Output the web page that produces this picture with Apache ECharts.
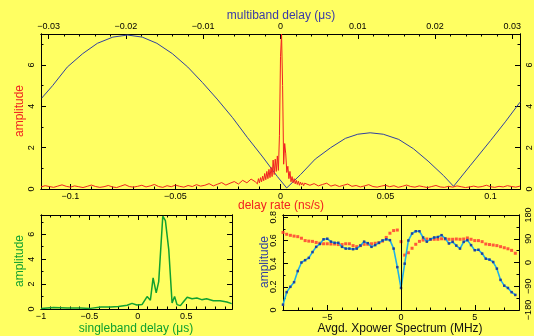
<!DOCTYPE html>
<html>
<head>
<meta charset="utf-8">
<script src="https://cdn.jsdelivr.net/npm/echarts@6/dist/echarts.min.js"></script>
<style>
  html, body { margin: 0; padding: 0; background: #ffff62; }
  #chart { width: 534px; height: 336px; }
</style>
</head>
<body>
<div id="chart"></div>
<script>
// delay rate amplitude (red), sampled on a regular grid in three pieces
const rateStep = 0.002
const rateLeftStart = -0.114
const rateLeft = [0.10,0.16,0.12,0.08,0.14,0.20,0.13,0.09,0.15,0.11,0.07,0.13,0.19,0.12,0.08,0.11,0.17,0.10,0.07,0.14,0.21,0.12,0.09,0.13,0.18,0.10,0.15,0.22,0.12,0.08,0.16,0.11,0.19,0.13,0.09,0.17,0.12,0.21,0.14,0.18,0.26,0.15,0.23,0.31,0.19,0.28,0.36,0.24,0.42,0.30,0.48,0.35]
const rateCoreStart = -0.0115
const rateCoreStep = 0.0005
const rateCore = [0.40,0.25,0.50,0.30,0.55,0.35,0.62,0.40,0.75,0.45,0.85,0.50,0.95,0.55,1.05,0.60,1.40,0.70,1.45,0.85,1.60,0.90,2.60,6.40,7.50,5.00,1.20,2.20,1.70,0.80,1.10,0.50,0.85,0.35,0.60,0.30,0.50,0.25,0.42,0.22,0.38,0.18,0.33,0.20,0.30,0.16,0.28]
const rateRightStart = 0.012
const rateRight = [0.30,0.18,0.26,0.15,0.22,0.28,0.14,0.20,0.12,0.18,0.24,0.13,0.17,0.10,0.15,0.21,0.12,0.09,0.14,0.18,0.11,0.16,0.08,0.13,0.19,0.12,0.09,0.15,0.11,0.07,0.12,0.17,0.10,0.08,0.13,0.09,0.15,0.11,0.07,0.10,0.14,0.09,0.12,0.18,0.11,0.08,0.13,0.10,0.16,0.12,0.09,0.14]

// multiband delay amplitude (blue)
const mbdX = [-0.0309,-0.0295,-0.0276,-0.0256,-0.0237,-0.0217,-0.0198,-0.0179,-0.0160,-0.0140,-0.0120,-0.0101,-0.0082,-0.0062,-0.0043,-0.0023,-0.0004,0.0008,0.0026,0.0045,0.0065,0.0084,0.0100,0.0116,0.0133,0.0153,0.0172,0.0191,0.0211,0.0224,0.0246,0.0272,0.0291,0.0310]
const mbdAmp = [4.4,5.0,5.9,6.55,7.05,7.35,7.45,7.35,7.05,6.55,5.9,5.15,4.35,3.45,2.5,1.55,0.6,0.05,0.7,1.45,2.0,2.45,2.65,2.72,2.65,2.4,1.95,1.35,0.65,0.13,1.15,2.35,3.25,4.2]

// singleband delay amplitude (green)
const sbdX = [-1.0,-0.87,-0.73,-0.59,-0.49,-0.38,-0.28,-0.2,-0.11,-0.06,-0.01,0.045,0.096,0.13,0.158,0.19,0.216,0.258,0.285,0.32,0.354,0.38,0.405,0.44,0.474,0.51,0.56,0.61,0.66,0.71,0.78,0.85,0.92,0.97]
const sbdAmp = [0.05,0.13,0.08,0.08,0.05,0.16,0.16,0.2,0.3,0.45,0.32,0.37,1.0,0.7,2.5,1.3,2.2,7.45,7.1,4.75,0.48,1.0,0.35,0.27,0.6,0.95,0.83,0.88,0.75,0.83,0.67,0.67,0.56,0.43]

// averaged cross power spectrum, one value per channel
const specStart = -8
const specStep = 0.25
const specAmp = [0.046,0.154,0.20,0.24,0.336,0.41,0.43,0.45,0.50,0.545,0.57,0.61,0.615,0.59,0.58,0.58,0.545,0.53,0.53,0.525,0.53,0.556,0.59,0.577,0.545,0.56,0.58,0.60,0.61,0.603,0.53,0.37,0.19,0.40,0.60,0.66,0.68,0.68,0.626,0.59,0.61,0.626,0.63,0.646,0.617,0.574,0.588,0.556,0.53,0.588,0.603,0.56,0.516,0.52,0.487,0.443,0.435,0.414,0.357,0.26,0.21,0.19,0.154,0.13]
const specPhase = [114,107,103,100,98,92,83,81,80,76,73,71,71,70,70,68,68,71,71,64,60,64,69,69,71,73,75,81,95,111,121,123,79,28,37,54,69,80,85,89,88,88,88,90,89,88,88,89,88,89,93,88,83,83,79,70,68,66,64,60,56,52,46,35]

// tick labels
const mbdTicks = [-0.03,-0.02,-0.01,0,0.01,0.02,0.03]
const rateTicks = [-0.1,-0.05,0,0.05,0.1]
const ampTicks = [0,2,4,6]
const sbdTicks = [-1,-0.5,0,0.5]
const specTicks = [-5,0,5]
const specAmpTicks = [0,0.2,0.4,0.6,0.8]
const phaseTicks = [-180,-90,0,90,180]

const RED = "#f02020"
const BLUE = "#3040a0"
const GREEN = "#10a030"
const FONT = "Liberation Sans"

const range = (a, b, s) => {
  const out = []
  for (let v = a; v <= b + s / 1000; v += s) out.push(+v.toFixed(6))
  return out
}
const fmt = (v) => String(+(+v).toFixed(4)).replace("-", "\u2212")

// one axis = major ticks (+labels), a twin axis carries the minor ticks
function axisPair(gridIndex, position, min, max, major, minor, label) {
  const base = {
    type: "value", gridIndex, position, min, max,
    axisLine: { show: true, onZero: false, lineStyle: { color: "#000", width: 1 } },
    splitLine: { show: false },
  }
  const rot = position === "left" || position === "right"
  return [
    {
      ...base,
      axisTick: { show: true, inside: true, length: 5, customValues: major, lineStyle: { color: "#000" } },
      axisLabel: label
        ? { show: true, customValues: major, formatter: fmt, color: "#000", fontSize: 9, fontFamily: FONT,
            margin: rot ? 5 : 3, rotate: rot ? 90 : 0 }
        : { show: false },
    },
    {
      ...base,
      axisTick: { show: true, inside: true, length: 2.5, customValues: minor, lineStyle: { color: "#000" } },
      axisLabel: { show: false },
    },
  ]
}

const xAxis = [
  ...axisPair(0, "bottom", -0.114, 0.114, rateTicks, range(-0.11, 0.11, 0.01), true),
  ...axisPair(0, "top", -0.031, 0.031, mbdTicks, range(-0.03, 0.03, 0.002), true),
  ...axisPair(1, "bottom", -1, 0.973, sbdTicks, range(-1, 0.9, 0.1), true),
  ...axisPair(1, "top", -1, 0.973, sbdTicks, range(-1, 0.9, 0.1), false),
  ...axisPair(2, "bottom", -8, 8, specTicks, range(-8, 8, 1), true),
  ...axisPair(2, "top", -8, 8, specTicks, range(-8, 8, 1), false),
]
const yAxis = [
  ...axisPair(0, "left", 0, 7.5, ampTicks, range(0, 7, 1), true),
  ...axisPair(0, "right", 0, 7.5, ampTicks, range(0, 7, 1), true),
  ...axisPair(1, "left", 0, 7.55, ampTicks, range(0, 7, 1), true),
  ...axisPair(1, "right", 0, 7.55, ampTicks, range(0, 7, 1), false),
  ...axisPair(2, "left", 0, 0.82, specAmpTicks, range(0, 0.8, 0.1), true),
  ...axisPair(2, "right", -180, 180, phaseTicks, range(-180, 180, 45), true),
]

const rateData = [
  ...rateLeft.map((v, i) => [rateLeftStart + i * rateStep, v]),
  ...rateCore.map((v, i) => [rateCoreStart + i * rateCoreStep, v]),
  ...rateRight.map((v, i) => [rateRightStart + i * rateStep, v]),
]
const specX = specAmp.map((_, i) => specStart + i * specStep)

const chart = echarts.init(document.getElementById("chart"), null, { renderer: "canvas" })

const txt = (x, y, text, fill, rot) => ({
  type: "text", x, y, rotation: rot ? Math.PI / 2 : 0,
  style: { text, fill, font: `12px ${FONT}`, align: "center", verticalAlign: "middle", textAlign: "center", textVerticalAlign: "middle" },
})

chart.setOption({
  backgroundColor: "#ffff62",
  animation: false,
  grid: [
    { left: 41, top: 34, width: 479, height: 155 },
    { left: 41, top: 215, width: 191, height: 94 },
    { left: 283, top: 215, width: 236, height: 95 },
  ],
  xAxis,
  yAxis,
  series: [
    {
      type: "line", xAxisIndex: 0, yAxisIndex: 0, data: rateData,
      showSymbol: false, lineStyle: { color: RED, width: 1 }, z: 3,
    },
    {
      type: "line", xAxisIndex: 2, yAxisIndex: 0, data: mbdX.map((x, i) => [x, mbdAmp[i]]),
      showSymbol: false, lineStyle: { color: BLUE, width: 1 }, z: 2,
    },
    {
      type: "line", xAxisIndex: 4, yAxisIndex: 4, data: sbdX.map((x, i) => [x, sbdAmp[i]]),
      showSymbol: false, lineStyle: { color: GREEN, width: 1.5 },
    },
    {
      type: "line", xAxisIndex: 8, yAxisIndex: 8, data: specX.map((x, i) => [x, specAmp[i]]),
      symbol: "rect", symbolSize: 2.5, itemStyle: { color: "#2040a0" },
      lineStyle: { color: "#20b0e8", width: 1.6 },
      markLine: {
        silent: true, symbol: "none", label: { show: false },
        lineStyle: { color: "#000", width: 1, type: "solid" },
        data: [{ xAxis: 0 }],
      },
    },
    {
      type: "scatter", xAxisIndex: 8, yAxisIndex: 10, data: specX.map((x, i) => [x, specPhase[i]]),
      symbol: "rect", symbolSize: 3, itemStyle: { color: "#ff3030" },
    },
  ],
  graphic: [
    txt(281, 16, "multiband delay (\u03bcs)", "#3a3aa8"),
    txt(281, 206, "delay rate (ns/s)", RED),
    txt(20, 111, "amplitude", RED, true),
    txt(20, 261, "amplitude", GREEN, true),
    txt(136, 329, "singleband delay (\u03bcs)", GREEN),
    txt(265, 262, "amplitude", BLUE, true),
    txt(400, 329, "Avgd. Xpower Spectrum (MHz)", "#111"),
    txt(540, 262, "phase (deg)", RED, true),
  ],
})
</script>
</body>
</html>
